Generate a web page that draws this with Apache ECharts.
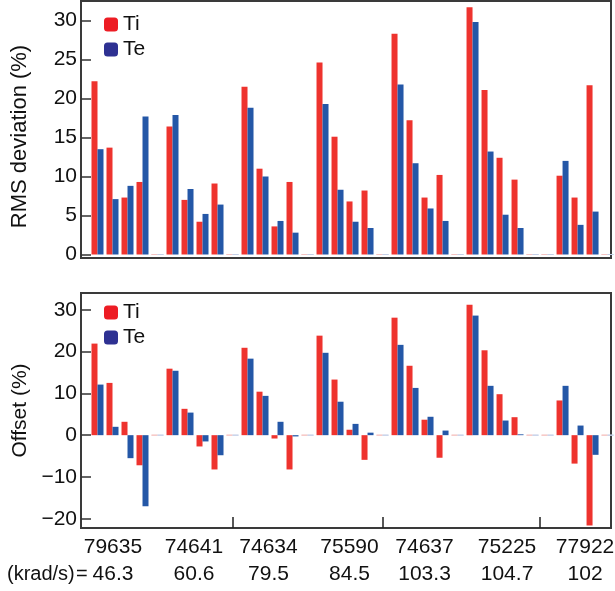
<!DOCTYPE html>
<html><head><meta charset="utf-8">
<script src="https://cdn.jsdelivr.net/npm/echarts@6/dist/echarts.min.js"></script>
<style>html,body{margin:0;padding:0;background:#fff}#c{width:615px;height:591px}</style>
</head><body><div id="c"></div>
<script>
// 35 slots: 4 pairs per shot + empty slot(s) between shots (null = no measurement)
var shots = ['79635','74641','74634','75590','74637','75225','77922'];
var rates = ['46.3','60.6','79.5','84.5','103.3','104.7','102'];
var tiRms = [22.2,13.7,7.3,9.3,null, 16.4,7.0,4.2,9.1,null, 21.5,11.0,3.6,9.3,null, 24.6,15.1,6.8,8.2,null, 28.3,17.2,7.3,10.2,null, 31.7,21.1,12.4,9.6,null,null, 10.1,7.3,21.7,null];
var teRms = [13.5,7.1,8.8,17.7,null, 17.9,8.4,5.2,6.4,null, 18.8,10.0,4.3,2.8,null, 19.3,8.3,4.2,3.4,null, 21.8,11.7,5.9,4.3,null, 29.8,13.2,5.1,3.4,null,null, 12.0,3.8,5.5,null];
var tiOff = [21.9,12.5,3.2,-7.2,null, 15.9,6.3,-2.7,-8.2,null, 20.9,10.4,-0.8,-8.2,null, 23.8,13.3,1.3,-5.9,null, 28.1,16.6,3.7,-5.4,null, 31.2,20.3,9.8,4.3,null,null, 8.3,-6.8,-21.6,null];
var teOff = [12.1,2.0,-5.5,-17.0,null, 15.4,5.4,-1.5,-4.8,null, 18.3,9.4,3.2,-0.3,null, 19.7,8.0,2.7,0.6,null, 21.6,11.3,4.4,1.1,null, 28.6,11.8,3.5,0.2,null,null, 11.8,2.3,-4.7,null];
var rmsTicks = [0,5,10,15,20,25,30];
var offTicks = [-20,-10,0,10,20,30];

// layout (not data)
var labelSlots = [1.03, 6.43, 11.4, 16.8, 21.8, 27.3, 32.5];
var sepSlots = [9, 19, 29.5];
var FONT = '"Liberation Sans", Arial, Helvetica, sans-serif';
var RED = '#ee332e', BLUE = '#2457a7';
var RED_L = '#ed1c24', BLUE_L = '#2e3192';
var FRAME = '#3a3a3a';

function build(arr, pale) {
  return arr.map(function (v, i) {
    if (v === null) return {value: [i, 0], itemStyle: {borderColor: pale, borderWidth: 1}};
    return {value: [i, v]};
  });
}
var chart = echarts.init(document.getElementById('c'), null, {renderer: 'canvas'});
function yAxis(grid, min, max, name, ticks, nameSize, namePad) {
  return {
    type: 'value', gridIndex: grid, min: min, max: max,
    name: name, nameLocation: 'middle', nameGap: 50,
    nameTextStyle: {fontFamily: FONT, fontSize: nameSize, color: '#111', padding: namePad},
    axisLine: {show: true, onZero: false, lineStyle: {color: FRAME, width: 2}},
    axisTick: {show: true, inside: true, length: 10, lineStyle: {color: '#333', width: 1.5}, customValues: ticks},
    axisLabel: {fontFamily: FONT, fontSize: 21, color: '#111', margin: 4, customValues: ticks,
      formatter: function (v) { return v < 0 ? '\u2212' + (-v) : String(v); }},
    splitLine: {show: false}
  };
}
function xAxis(grid, bottom) {
  return {
    type: 'value', gridIndex: grid, min: -1.1, max: 34.23,
    axisLine: {show: true, onZero: false, lineStyle: {color: FRAME, width: 2}},
    axisTick: bottom ? {show: true, inside: true, length: 11, lineStyle: {color: '#222', width: 1.5}, customValues: sepSlots} : {show: false},
    axisLabel: bottom ? {
      show: true, margin: 6, customValues: labelSlots,
      formatter: function (v) {
        for (var k = 0; k < labelSlots.length; k++) if (Math.abs(labelSlots[k] - v) < 0.01) return '{a|' + shots[k] + '}\n{a|' + rates[k] + '}';
        return '';
      },
      rich: {a: {fontFamily: FONT, fontSize: 21, color: '#111', lineHeight: 27}}
    } : {show: false},
    splitLine: {show: false}
  };
}
var legendText = {fontFamily: FONT, fontSize: 21, color: '#111'};
chart.setOption({
  backgroundColor: '#fff',
  animation: false,
  grid: [
    {left: 81, right: 4, top: 1, height: 257, outerBoundsMode: 'none', containLabel: false, show: true, borderColor: FRAME, borderWidth: 2, backgroundColor: 'transparent'},
    {left: 81, right: 4, top: 293, height: 235, outerBoundsMode: 'none', containLabel: false, show: true, borderColor: FRAME, borderWidth: 2, backgroundColor: 'transparent'}
  ],
  xAxis: [xAxis(0, false), xAxis(1, true)],
  yAxis: [yAxis(0, -0.45, 32.5, 'RMS deviation (%)', rmsTicks, 22, [0, 14, 0, 0]), yAxis(1, -22.2, 34, 'Offset (%)', offTicks, 21, 0)],
  legend: [
    {orient: 'vertical', left: 99, top: 9, itemWidth: 14, itemHeight: 14, itemGap: 4, textStyle: legendText,
     data: [{name: 'Ti', itemStyle: {color: RED_L}}, {name: 'Te', itemStyle: {color: BLUE_L}}]},
    {orient: 'vertical', left: 99, top: 297, itemWidth: 14, itemHeight: 14, itemGap: 4, textStyle: legendText,
     data: [{name: 'Ti', itemStyle: {color: RED_L}}, {name: 'Te', itemStyle: {color: BLUE_L}}]}
  ],
  graphic: [
    {type: 'text', left: 7, top: 564, style: {text: '(krad/s)', fontFamily: FONT, fontSize: 20, fill: '#111'}},
    {type: 'text', left: 76, top: 564, style: {text: '=', fontFamily: FONT, fontSize: 20, fill: '#111'}}
  ],
  series: [
    {name: 'Ti', type: 'bar', xAxisIndex: 0, yAxisIndex: 0, barWidth: 6, barGap: '0%', itemStyle: {color: RED}, data: build(tiRms, '#f6c4c2')},
    {name: 'Te', type: 'bar', xAxisIndex: 0, yAxisIndex: 0, barWidth: 6, barGap: '0%', itemStyle: {color: BLUE}, data: build(teRms, '#c4d0e8')},
    {name: 'Ti', type: 'bar', xAxisIndex: 1, yAxisIndex: 1, barWidth: 6, barGap: '0%', itemStyle: {color: RED}, data: build(tiOff, '#f6c4c2')},
    {name: 'Te', type: 'bar', xAxisIndex: 1, yAxisIndex: 1, barWidth: 6, barGap: '0%', itemStyle: {color: BLUE}, data: build(teOff, '#c4d0e8')}
  ]
});
</script></body></html>
